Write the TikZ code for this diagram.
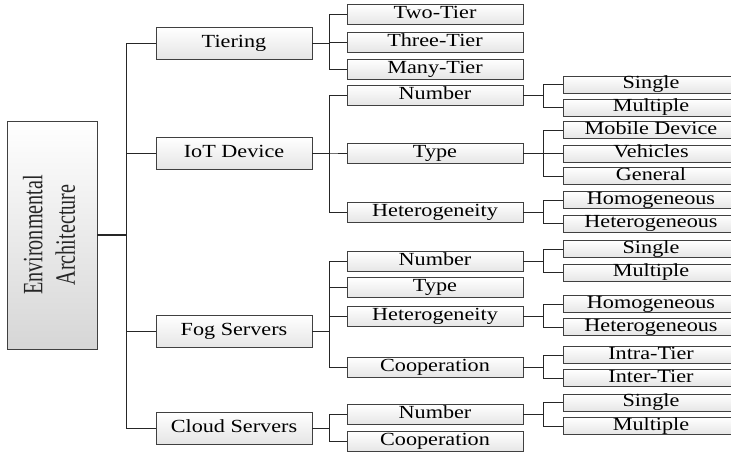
\documentclass[tikz,border=0pt]{standalone}
\usepackage{fontspec}
\usepackage{graphicx}
\setmainfont{Liberation Serif}
\usetikzlibrary{shadows}
\newcommand\sx[1]{\scalebox{1.2}[1]{#1}}
\tikzset{
  bx/.style={draw=black!75, line width=0.7pt, top color=white, bottom color=black!10,
    drop shadow={shadow xshift=0.8pt, shadow yshift=-0.8pt, fill=black!75},
    inner sep=0pt, font=\fontsize{18.5}{18.5}\selectfont, text height=12.5pt, text depth=4pt},
  lone/.style={bx, minimum width=156pt, minimum height=32pt},
  ltwo/.style={bx, minimum width=176pt, minimum height=20pt},
  lthree/.style={bx, minimum width=176pt, minimum height=17pt},
  ln/.style={draw=black!85, line width=0.9pt},
  rootbox/.style={draw=black!75, line width=0.7pt, top color=white, bottom color=black!16,
    drop shadow={shadow xshift=0.8pt, shadow yshift=-0.8pt, fill=black!75},
    minimum width=90pt, minimum height=228pt, inner sep=0pt}
}
\newcommand\conn[3]{\draw[ln] (#1.east) -- ++(#3,0) |- (#2.west);}
\begin{document}
\begin{tikzpicture}[x=1pt,y=-1pt]
\useasboundingbox (0,0) rectangle (731,453);
\clip (0,0) rectangle (731,453);
% root
\node[rootbox] (root) at (52,235) {};
\node[rotate=90, font=\fontsize{28}{33}\selectfont, text=black!85] (roottext) at (root.center) {\scalebox{0.72}[1]{\begin{tabular}{@{}c@{}}Environmental\\[-0.5pt]Architecture\end{tabular}}};
% level 1
\node[lone] (tier) at (234,43) {\sx{Tiering}};
\node[lone] (iot) at (234,153) {\sx{IoT Device}};
\node[lone] (fog) at (234,331.5) {\sx{Fog Servers}};
\node[lone] (cloud) at (234,428) {\sx{Cloud Servers}};
% level 2
\node[ltwo] (two) at (435,14.5) {\sx{Two-Tier}};
\node[ltwo] (three) at (435,42) {\sx{Three-Tier}};
\node[ltwo] (many) at (435,69) {\sx{Many-Tier}};
\node[ltwo] (inum) at (435,95) {\sx{Number}};
\node[ltwo] (itype) at (435,153) {\sx{Type}};
\node[ltwo] (ihet) at (435,212) {\sx{Heterogeneity}};
\node[ltwo] (fnum) at (435,261.5) {\sx{Number}};
\node[ltwo] (ftype) at (435,287.5) {\sx{Type}};
\node[ltwo] (fhet) at (435,316.5) {\sx{Heterogeneity}};
\node[ltwo] (fcoop) at (435,367) {\sx{Cooperation}};
\node[ltwo] (cnum) at (435,414.5) {\sx{Number}};
\node[ltwo] (ccoop) at (435,441.5) {\sx{Cooperation}};
% level 3
\node[lthree] (isingle) at (651,84.5) {\sx{Single}};
\node[lthree] (imult) at (651,107.5) {\sx{Multiple}};
\node[lthree] (imob) at (651,130) {\sx{Mobile Device}};
\node[lthree] (iveh) at (651,153.5) {\sx{Vehicles}};
\node[lthree] (igen) at (651,176) {\sx{General}};
\node[lthree] (ihom) at (651,200) {\sx{Homogeneous}};
\node[lthree] (ihetg) at (651,223.5) {\sx{Heterogeneous}};
\node[lthree] (fsingle) at (651,249) {\sx{Single}};
\node[lthree] (fmult) at (651,272.5) {\sx{Multiple}};
\node[lthree] (fhom) at (651,304) {\sx{Homogeneous}};
\node[lthree] (fhetg) at (651,327) {\sx{Heterogeneous}};
\node[lthree] (fintra) at (651,355) {\sx{Intra-Tier}};
\node[lthree] (finter) at (651,378) {\sx{Inter-Tier}};
\node[lthree] (csingle) at (651,402.5) {\sx{Single}};
\node[lthree] (cmult) at (651,426) {\sx{Multiple}};
% connectors
\draw[ln, line width=1.4pt] (root.east) -- ++(29,0);
\draw[ln] (root.east) ++(29,0) |- (tier.west);
\draw[ln] (root.east) ++(29,0) |- (iot.west);
\draw[ln] (root.east) ++(29,0) |- (fog.west);
\draw[ln] (root.east) ++(29,0) |- (cloud.west);
\conn{tier}{two}{17}
\conn{tier}{three}{17}
\conn{tier}{many}{17}
\conn{iot}{inum}{17}
\conn{iot}{itype}{17}
\conn{iot}{ihet}{17}
\conn{fog}{fnum}{17}
\conn{fog}{ftype}{17}
\conn{fog}{fhet}{17}
\conn{fog}{fcoop}{17}
\conn{cloud}{cnum}{17}
\conn{cloud}{ccoop}{17}
\conn{inum}{isingle}{20}
\conn{inum}{imult}{20}
\conn{itype}{imob}{20}
\conn{itype}{iveh}{20}
\conn{itype}{igen}{20}
\conn{ihet}{ihom}{20}
\conn{ihet}{ihetg}{20}
\conn{fnum}{fsingle}{20}
\conn{fnum}{fmult}{20}
\conn{fhet}{fhom}{20}
\conn{fhet}{fhetg}{20}
\conn{fcoop}{fintra}{20}
\conn{fcoop}{finter}{20}
\conn{cnum}{csingle}{20}
\conn{cnum}{cmult}{20}
\end{tikzpicture}
\end{document}
